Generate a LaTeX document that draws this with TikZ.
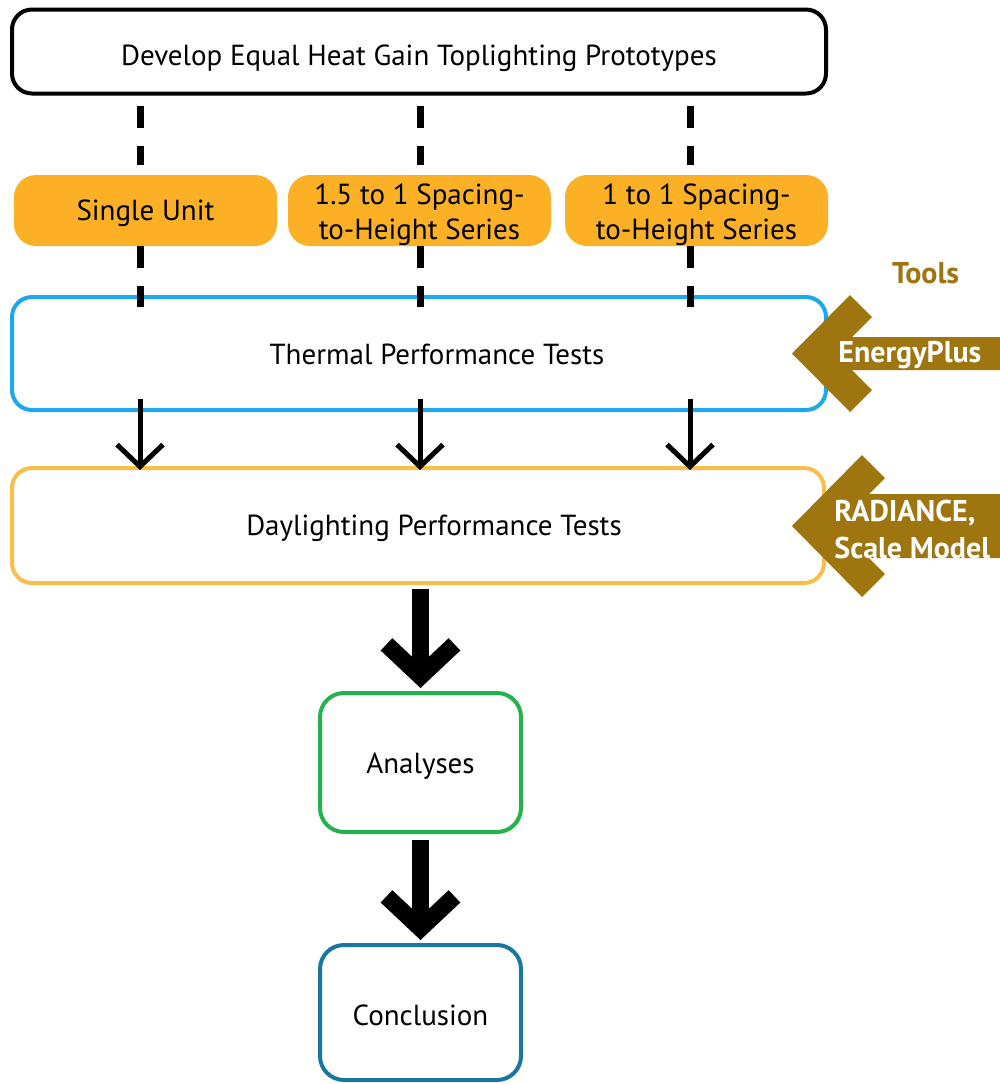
\documentclass[tikz,border=0pt]{standalone}
\usepackage{fontspec}
\setmainfont{PT Sans}
\usetikzlibrary{arrows.meta}
\definecolor{orangefill}{RGB}{251,176,38}
\definecolor{thermalblue}{RGB}{28,168,238}
\definecolor{daygold}{RGB}{248,190,75}
\definecolor{anagreen}{RGB}{36,178,76}
\definecolor{concblue}{RGB}{26,118,160}
\definecolor{toolbrown}{RGB}{158,117,14}
\begin{document}
\begin{tikzpicture}[x=0.5pt,y=-0.5pt,
  txt/.style={font=\fontsize{14.5}{17.5}\selectfont},
  box/.style={draw, rounded corners=10pt, line width=2pt, fill=white, align=center, inner sep=0pt, txt, text depth=0pt},
  obox/.style={fill=orangefill, rounded corners=11pt, align=center, inner sep=0pt, minimum width=131.5pt, minimum height=35.5pt, txt},
  dashline/.style={line width=3.5pt, dash pattern=on 11pt off 9pt},
  thinarrow/.style={line width=2.5pt, -{Straight Barb[length=11pt,width=23pt]}},
  thickarrow/.style={line width=8.5pt, -{Straight Barb[length=16pt,width=34pt]}},
  tooltext/.style={text=white, font=\bfseries\fontsize{15}{18.5}\selectfont, align=left, inner sep=0pt},
]
\useasboundingbox (0,0) rectangle (1000,1084);

% boxes
\node[box, minimum width=407pt, minimum height=42pt, text height=13.5pt] (top) at (419,51.5) {Develop Equal Heat Gain Toplighting Prototypes};
\node[obox, text height=9.5pt, text depth=0pt] (su) at (145.5,210.5) {Single Unit};
\node[obox, label={[txt, align=center, yshift=-2pt]center:1.5 to 1 Spacing-\\to-Height Series}] (s15) at (419.5,210.5) {};
\node[obox, label={[txt, align=center, yshift=-2pt]center:1 to 1 Spacing-\\to-Height Series}] (s11) at (696.5,210.5) {};
\node[box, draw=thermalblue, minimum width=407pt, minimum height=56.5pt,
  label={[txt, text height=10.5pt, text depth=0pt, inner sep=0pt, xshift=9pt]center:Thermal Performance Tests}] (thermal) at (419,353.5) {};
\node[box, draw=daygold, minimum width=406pt, minimum height=57.5pt,
  label={[txt, text height=10pt, text depth=0pt, inner sep=0pt, xshift=8pt]center:Daylighting Performance Tests}] (daylight) at (418,525.5) {};
\node[box, draw=anagreen, rounded corners=12pt, minimum width=100.5pt, minimum height=69.5pt, text height=10.5pt] (analyses) at (420.5,762.5) {Analyses};
\node[box, draw=concblue, rounded corners=12pt, minimum width=100.5pt, minimum height=67.5pt, text height=13pt] (conclusion) at (420.5,1012.5) {Conclusion};

% columns
\coordinate (c1) at (140,0);
\coordinate (c2) at (420,0);
\coordinate (c3) at (690,0);

% dashed connectors
\draw[dashline, shorten <=5pt, shorten >=5pt] (top.south -| c1) -- (su.north -| c1);
\draw[dashline, shorten <=5pt, shorten >=5pt] (top.south -| c2) -- (s15.north -| c2);
\draw[dashline, shorten <=5pt, shorten >=5pt] (top.south -| c3) -- (s11.north -| c3);
\draw[dashline, shorten >=-6pt] (su.south -| c1) -- (thermal.north -| c1);
\draw[dashline, shorten >=-6pt] (s15.south -| c2) -- (thermal.north -| c2);
\draw[dashline, shorten >=-6pt] (s11.south -| c3) -- (thermal.north -| c3);

% thin arrows
\draw[thinarrow, shorten <=-6.5pt, shorten >=-2pt] (thermal.south -| c1) -- (daylight.north -| c1);
\draw[thinarrow, shorten <=-6.5pt, shorten >=-2pt] (thermal.south -| c2) -- (daylight.north -| c2);
\draw[thinarrow, shorten <=-6.5pt, shorten >=-2pt] (thermal.south -| c3) -- (daylight.north -| c3);

% thick arrows
\draw[thickarrow, shorten <=2pt, shorten >=1.5pt] (daylight.south -| analyses.north) -- (analyses.north);
\draw[thickarrow, shorten <=3pt, shorten >=1.5pt] (analyses.south) -- (conclusion.north);

% tools
\node[font=\bfseries\fontsize{15}{18}\selectfont, text=toolbrown, inner sep=0pt, anchor=base] (tools) at (925.5,283) {Tools};
\fill[toolbrown] (792,353.5) -- (850,295) -- (872,317) -- (852,337) -- (1000,337) -- (1000,370) -- (852,370) -- (872,390) -- (850,412) -- cycle;
\node[tooltext, anchor=base west] (ep) at (838,362) {EnergyPlus};
\fill[toolbrown] (792,526) -- (862,455) -- (885,478) -- (869,494) -- (1000,494) -- (1000,558) -- (869,558) -- (885,574) -- (862,597) -- cycle;
\node[tooltext, anchor=west] (rad) at (834,529) {RADIANCE,\\Scale Model};
\end{tikzpicture}
\end{document}
